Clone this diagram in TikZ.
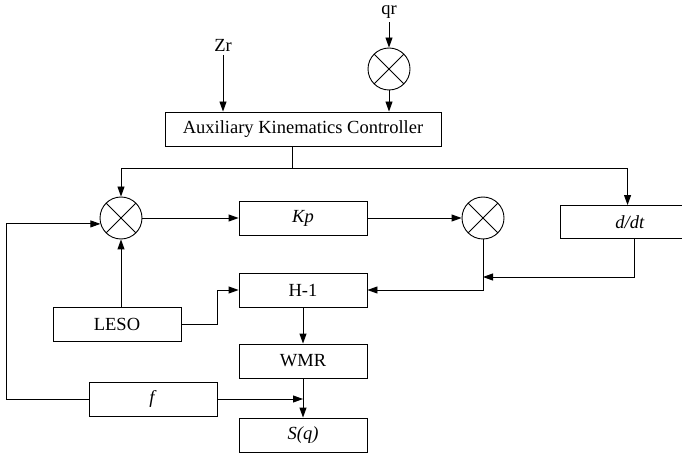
\documentclass[tikz,border=0pt]{standalone}
\usepackage{fontspec}
\setmainfont{Liberation Serif}
\usetikzlibrary{calc,arrows.meta}

\begin{document}
\begin{tikzpicture}[
  x=1pt, y=-1pt,
  line width=0.9pt,
  every node/.style={font=\fontsize{18.5}{22}\selectfont},
  block/.style={draw, rectangle, minimum width=128pt, minimum height=34pt, inner sep=1pt},
  mixer/.style={draw, circle, minimum size=42pt, inner sep=0pt,
    path picture={\draw (path picture bounding box.north west) -- (path picture bounding box.south east)
      (path picture bounding box.north east) -- (path picture bounding box.south west);}},
  wire/.style={draw},
  flow/.style={draw, -{Triangle[length=10pt,width=7pt]}}
]
\clip (0,0) rectangle (682,454);
\node (qr) at (389,12) {qr};
\node (zr) at (223,45) {Zr};
\node[mixer] (mixq) at (389,69) {};
\node[block, minimum width=276pt] (aux) at (303,129) {Auxiliary Kinematics Controller};
\node[mixer] (mix1) at (121,218) {};
\node[block] (kp) at (303,218) {\textit{Kp}};
\node[mixer] (mix2) at (483,218) {};
\node[block, minimum width=140pt, minimum height=33pt] (ddt) at (630,222) {\textit{d/dt}};
\node[block] (hinv) at (303,290) {H-1};
\node[block] (leso) at (117,324) {LESO};
\node[block] (wmr) at (303,361) {WMR};
\node[block] (fblk) at (153,399) {\textit{f}};
\node[block] (sq) at (303,435) {\textit{S(q)}};
\coordinate (split) at (292,168);
\coordinate (ddtlevel) at (0,277);

% inputs
\draw[flow] (qr) -- (mixq);
\draw[flow] (zr) -- (zr |- aux.north);
\draw[flow] (mixq) -- (mixq |- aux.north);
\draw[wire] (aux.south -| split) -- (split);
\draw[flow] (split) -| (mix1.north);
\draw[flow] (split) -| ($(ddt.north west)+(68,0)$);
% forward path
\draw[flow] (mix1) -- (kp);
\draw[flow] (kp) -- (mix2);
\draw[flow] (mix2.south) |- (hinv.east);
\draw[flow] ($(ddt.south west)+(75,0)$) |- (mix2.south |- ddtlevel);
\draw[flow] (leso.north -| mix1) -- (mix1.south);
\draw[flow] (leso.east) -- ++(36,0) |- (hinv.west);
\draw[flow] (hinv) -- (wmr);
\draw[flow] (wmr) -- (sq);
% feedback
\draw[flow] (fblk) -- (fblk -| wmr.south);
\draw[flow] (fblk.west) -- ++(-82,0) |- (mix1.196);
\end{tikzpicture}
\end{document}
